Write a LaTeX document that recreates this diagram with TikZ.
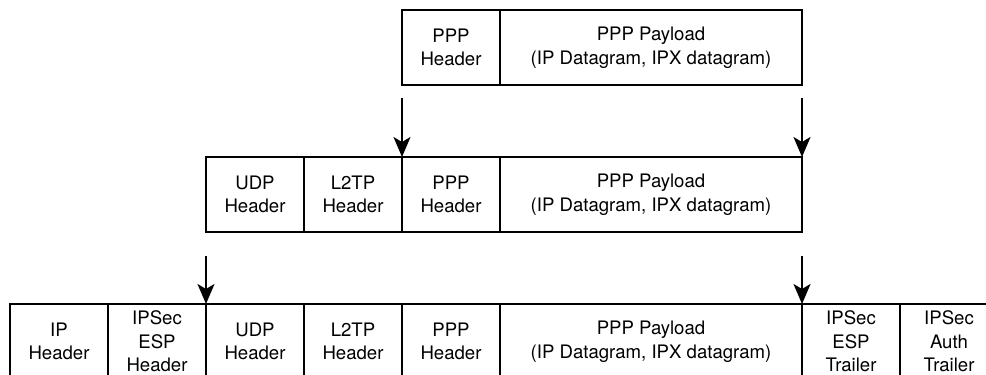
\documentclass[tikz,border=0pt]{standalone}
\usepackage{fontspec}
\setmainfont{TeX Gyre Heros}
\usetikzlibrary{arrows.meta, positioning}

\tikzset{
  field/.style = {draw, line width=2pt, outer sep=0pt, minimum width=98pt, minimum height=75pt,
                  inner sep=0pt, align=center, font=\fontsize{18.6}{23.5}\selectfont},
  payload/.style = {field, minimum width=302pt},
  flow/.style = {line width=2pt, >={Stealth[length=20pt, width=17pt, inset=5pt]}, ->}
}

\begin{document}
\begin{tikzpicture}[x=1pt, y=-1pt]
  \clip (0,0) rectangle (986,375);

  % PPP frame
  \node[field, anchor=north west] (ppp1) at (402,10) {PPP\\Header};
  \node[payload, right=0pt of ppp1] (pay1) {PPP Payload\\(IP Datagram, IPX datagram)};

  % L2TP packet
  \node[field, anchor=north west] (udp2) at (206,157) {UDP\\Header};
  \node[field, right=0pt of udp2] (l2tp2) {L2TP\\Header};
  \node[field, right=0pt of l2tp2] (ppp2) {PPP\\Header};
  \node[payload, right=0pt of ppp2] (pay2) {PPP Payload\\(IP Datagram, IPX datagram)};

  % IPSec packet
  \node[field, anchor=north west] (ip3) at (10,304) {IP\\Header};
  \node[field, right=0pt of ip3] (esph3) {IPSec\\ESP\\Header};
  \node[field, right=0pt of esph3] (udp3) {UDP\\Header};
  \node[field, right=0pt of udp3] (l2tp3) {L2TP\\Header};
  \node[field, right=0pt of l2tp3] (ppp3) {PPP\\Header};
  \node[payload, right=0pt of ppp3] (pay3) {PPP Payload\\(IP Datagram, IPX datagram)};
  \node[field, right=0pt of pay3] (espt3) {IPSec\\ESP\\Trailer};
  \node[field, right=0pt of espt3] (auth3) {IPSec\\Auth\\Trailer};

  \draw[flow] ([yshift=-13pt]ppp1.south west) -- (ppp2.north west);
  \draw[flow] ([yshift=-13pt]pay1.south east) -- (pay2.north east);
  \draw[flow] ([yshift=-24pt]udp2.south west) -- (udp3.north west);
  \draw[flow] ([yshift=-24pt]pay2.south east) -- (pay3.north east);
\end{tikzpicture}
\end{document}
